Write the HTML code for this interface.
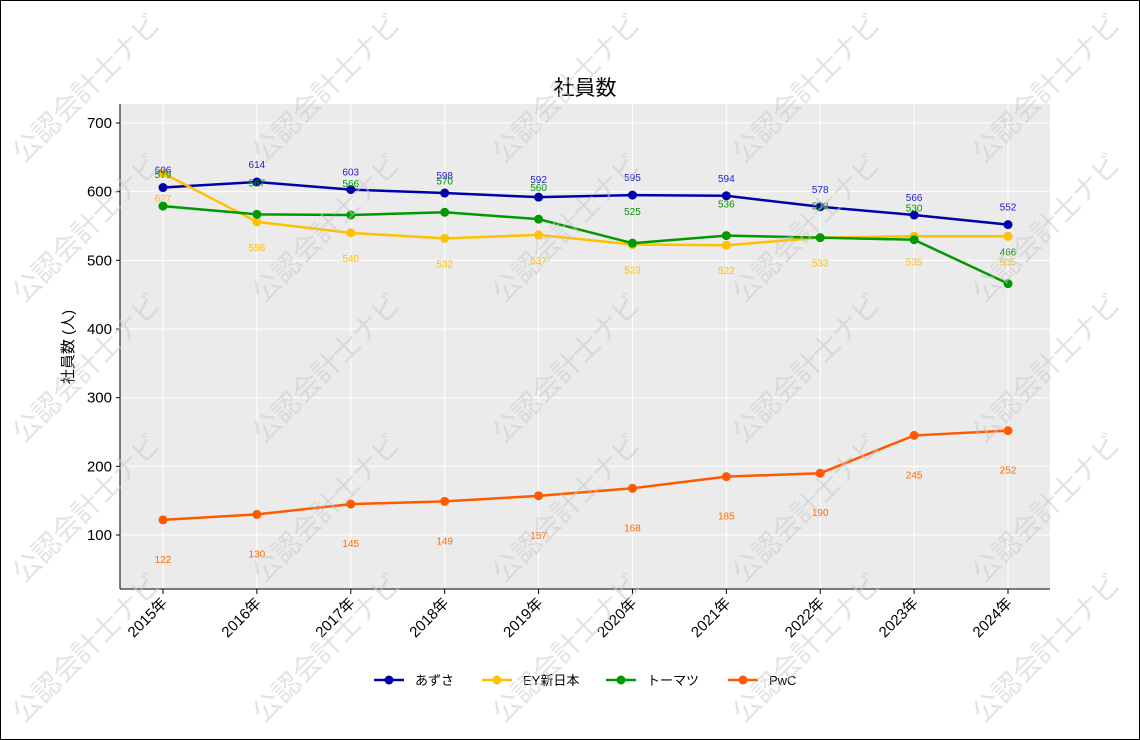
<!DOCTYPE html>
<html><head><meta charset="utf-8"><style>
html,body{margin:0;padding:0;background:#fff}
svg{display:block}
text{font-family:"Liberation Sans","Noto Sans CJK JP",sans-serif}
</style></head><body>
<svg id="s" width="1140" height="740" xmlns="http://www.w3.org/2000/svg">
<rect x="0.5" y="0.5" width="1139" height="739" fill="#fff" stroke="#000"/>
<rect x="120" y="104" width="930" height="485" fill="#ebebeb"/>
<g id="grid" stroke="#fff" stroke-width="1"></g>
<g id="series"></g>
<line x1="120" y1="104" x2="120" y2="589" stroke="#000"/>
<line x1="120" y1="589" x2="1050" y2="589" stroke="#000"/>
<g id="axes" font-size="15" fill="#000"></g>
<text x="585" y="95" font-size="21" text-anchor="middle">社員数</text>
<text transform="translate(73,347) rotate(-90)" font-size="15" text-anchor="middle">社員数 (人)</text>
<g id="legend" font-size="13"></g>
<g id="wm" fill="#c8c8c8" fill-opacity="0.5" font-size="28"></g>
</svg>
<script>
const NS="http://www.w3.org/2000/svg";
function el(p,t,a,txt){const e=document.createElementNS(NS,t);for(const k in a)e.setAttribute(k,a[k]);if(txt!==undefined)e.textContent=txt;document.getElementById(p).appendChild(e);return e;}
const xs=[],years=[];for(let i=0;i<10;i++){xs.push(163+i*93.89);years.push(2015+i);}
const Y=v=>535-(v-100)*0.68667;
for(let v=100;v<=700;v+=100){el("grid","line",{x1:120,x2:1050,y1:Y(v),y2:Y(v)});
 el("axes","line",{x1:116,x2:120,y1:Y(v),y2:Y(v),stroke:"#000"});
 el("axes","text",{x:112,y:Y(v)+5,"text-anchor":"end"},v);}
xs.forEach((x,i)=>{el("grid","line",{x1:x,x2:x,y1:104,y2:589});
 el("axes","line",{x1:x,x2:x,y1:589,y2:594,stroke:"#000"});
 el("axes","text",{transform:`translate(${x+5},604) rotate(-45)`,"text-anchor":"end"},years[i]+"年");});
const S=[
 ["あずさ","#0000aa","#2222cc",[606,614,603,598,592,595,594,578,566,552],-18],
 ["EY新日本","#ffc000","#ffc000",[627,556,540,532,537,523,522,533,535,535],25],
 ["トーマツ","#009900","#009900",[579,567,566,570,560,525,536,533,530,466],-32],
 ["PwC","#ff5a00","#ff6a00",[122,130,145,149,157,168,185,190,245,252],39]];
S.forEach(s=>{const pts=s[3].map((v,i)=>xs[i]+","+Y(v)).join(" ");
 el("series","polyline",{points:pts,fill:"none",stroke:s[1],"stroke-width":2.5});
 s[3].forEach((v,i)=>{el("series","circle",{cx:xs[i],cy:Y(v),r:4.5,fill:s[1]});});});
S.forEach(s=>{s[3].forEach((v,i)=>{el("series","text",{x:xs[i],y:Y(v)+s[4]+4,"font-size":10,"text-anchor":"middle",fill:s[2]},v);});});
const lx=[374,482,606,728];
S.forEach((s,i)=>{el("legend","line",{x1:lx[i],x2:lx[i]+30,y1:680,y2:680,stroke:s[1],"stroke-width":2.5});
 el("legend","circle",{cx:lx[i]+15,cy:680,r:4.5,fill:s[1]});
 el("legend","text",{x:lx[i]+41,y:685},s[0]);});
for(let c=0;c<5;c++)for(let r=0;r<5;r++){const x=24+c*240,y=164+r*140;
 el("wm","text",{transform:`translate(${x},${y}) rotate(-45)`},"公認会計士ナビ");}
</script>
</body></html>
